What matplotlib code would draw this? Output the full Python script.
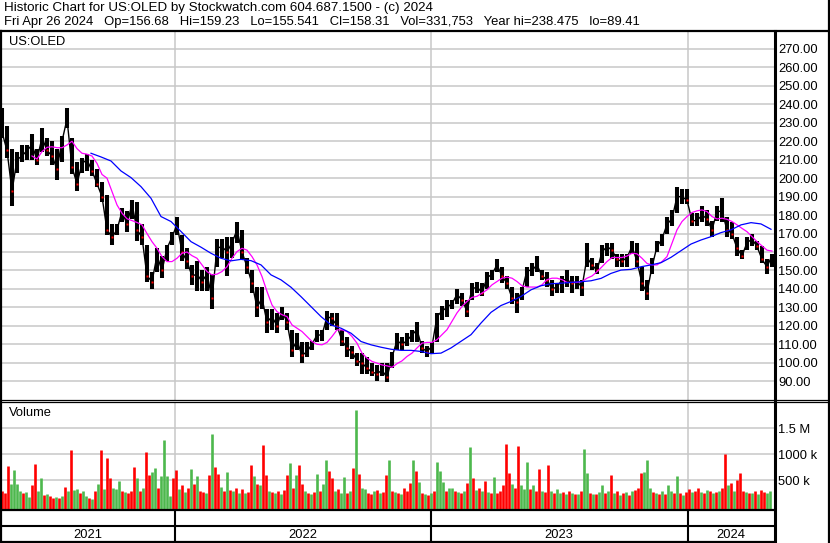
import numpy as np
import matplotlib.pyplot as plt

plt.rcParams['font.family'] = ['Liberation Sans', 'DejaVu Sans']

title_line = "Historic Chart for US:OLED by Stockwatch.com 604.687.1500 - (c) 2024"
quote_line = ("Fri Apr 26 2024   Op=156.68   Hi=159.23   Lo=155.541   Cl=158.31   "
              "Vol=331,753   Year hi=238.475   lo=89.41")
symbol = "US:OLED"

# price bars, one per 5 trading days
highs = [238, 228, 216, 214, 218, 218, 224, 216, 227, 222,
         220, 216, 223, 238, 222, 209, 211, 213, 210, 205,
         198, 191, 175, 175, 184, 182, 188, 187, 175, 164,
         149, 162, 158, 164, 171, 179, 169, 162, 153, 155,
         150, 152, 148, 167, 167, 168, 168, 176, 172, 157,
         150, 141, 141, 129, 129, 127, 130, 127, 118, 116,
         111, 111, 112, 118, 118, 128, 127, 127, 118, 114,
         109, 105, 105, 103, 100, 99, 100, 100, 106, 116,
         114, 116, 118, 122, 112, 109, 111, 127, 131, 134,
         134, 140, 138, 134, 143, 144, 143, 149, 150, 156,
         152, 147, 141, 138, 141, 152, 154, 158, 150, 149,
         145, 143, 147, 150, 147, 147, 145, 165, 157, 154,
         164, 165, 165, 159, 159, 159, 166, 165, 152, 145,
         157, 166, 170, 179, 183, 195, 194, 194, 181, 181,
         185, 183, 177, 185, 189, 179, 176, 168, 161, 168,
         170, 166, 163, 156, 159]
lows = [222, 211, 185, 203, 209, 210, 210, 207, 214, 212,
        207, 199, 209, 227, 202, 193, 203, 204, 201, 195,
        187, 169, 164, 169, 176, 171, 178, 166, 164, 144,
        140, 149, 146, 155, 164, 169, 155, 151, 142, 139,
        139, 139, 129, 152, 157, 147, 157, 165, 156, 148,
        138, 125, 129, 116, 118, 116, 123, 118, 103, 107,
        100, 103, 107, 111, 112, 118, 120, 118, 109, 103,
        102, 98, 94, 94, 93, 90, 93, 89.4, 97, 107,
        107, 109, 111, 111, 105, 103, 105, 111, 123, 125,
        129, 132, 131, 125, 134, 138, 136, 140, 145, 149,
        143, 140, 132, 127, 134, 141, 147, 149, 145, 141,
        136, 138, 138, 141, 138, 140, 136, 152, 150, 148,
        154, 158, 156, 152, 152, 152, 159, 152, 139, 134,
        148, 160, 163, 170, 174, 181, 186, 186, 174, 174,
        176, 174, 168, 177, 176, 168, 167, 158, 156, 161,
        163, 161, 154, 148, 152]
closes = [225, 215, 193, 210, 212, 215, 218, 210, 222, 215,
          212, 205, 220, 232, 206, 197, 208, 210, 204, 197,
          190, 172, 168, 172, 182, 175, 186, 172, 168, 147,
          144, 158, 150, 162, 168, 175, 160, 155, 147, 148,
          144, 148, 135, 162, 163, 160, 165, 172, 160, 152,
          143, 130, 135, 122, 125, 120, 128, 122, 107, 112,
          104, 106, 110, 115, 115, 125, 124, 120, 112, 108,
          106, 101, 100, 97, 95, 94, 96, 92, 103, 112,
          110, 112, 115, 118, 108, 106, 109, 125, 128, 130,
          132, 137, 134, 128, 140, 141, 138, 146, 148, 153,
          147, 143, 135, 133, 139, 150, 150, 153, 147, 145,
          140, 141, 145, 145, 143, 144, 141, 157, 153, 150,
          160, 163, 161, 156, 155, 157, 163, 155, 143, 138,
          152, 163, 167, 175, 178, 190, 190, 188, 177, 177,
          180, 178, 172, 182, 182, 172, 170, 162, 158, 165,
          167, 163, 156, 152, 158]

# short moving average (magenta), every 5 days from day 30
ma_short = [212, 210.4, 214.4, 216.7, 217, 216.5, 216.5, 218, 220, 216,
            213.5, 213, 212, 208, 202, 200, 192.7, 185.5, 181, 178,
            177, 176, 174.7, 170, 165.6, 162, 157.5, 154.8, 154.8, 156.6,
            159.3, 160, 158, 156.6, 153, 149.4, 147.6, 148, 149.4, 152,
            156.6, 160.2, 162, 161, 157.5, 153, 146.7, 138.6, 131.3, 127.7,
            126, 125, 120.5, 118.7, 116.9, 114.2, 111.5, 110, 109.7, 111,
            114.2, 117.8, 117.8, 116.9, 114.2, 110.6, 105.2, 102.5, 100.7, 99.8,
            98.8, 98.3, 97.5, 99.5, 101, 103.4, 105.2, 108, 110.6, 111,
            111, 112.5, 115.2, 117.9, 122.4, 127, 130.5, 133.2, 135.4, 136,
            137.7, 139.5, 142.2, 144, 145.8, 146.4, 145.8, 144, 141.7, 141,
            141, 141, 142.2, 145, 145.8, 145.8, 145, 143.5, 143.5, 143.5,
            144, 145.8, 147, 149.3, 152, 154.8, 157, 157, 157, 157.8,
            159.3, 159, 156.6, 153.8, 153, 153, 154.8, 157.5, 164.7, 172,
            176.5, 179.2, 181.4, 182.3, 182.8, 181.9, 179.2, 177.9, 178.3, 177.7,
            176.5, 174.7, 172.8, 171, 168.3, 165.6, 163.3, 161, 160.5]

# long moving average (blue), every 10 days from day 89
ma_long = [213.5, 211.5, 209.3, 203.9, 200.3, 195.4, 189.1, 179.2, 176.5, 171.1,
           165.6, 162.6, 159.3, 156.6, 155.2, 156, 155.3, 153, 147.6, 144.9,
           140.9, 135.8, 130.4, 125, 120.5, 118.7, 116, 111.5, 109.7, 108.4,
           107.3, 106.7, 106.7, 106.1, 104.9, 105.2, 108, 111.6, 115.2, 121.5,
           127.3, 131, 133.2, 135.9, 139.5, 141.7, 142.8, 143.1, 143.5, 143.9,
           144.4, 145.7, 148.4, 150.2, 150.6, 152, 153, 154.2, 157.1, 160.7,
           164.3, 166.5, 168.3, 170.5, 172, 174.7, 175.9, 175.2, 172.3]

# volume in thousands, every 3 days; r = down day, g = up day
vol_k = [290, 260, 780, 430, 700, 420, 300, 250, 270, 180,
         400, 815, 300, 550, 220, 230, 200, 150, 180, 160,
         200, 380, 300, 1080, 320, 330, 250, 290, 200, 160,
         140, 300, 420, 1080, 330, 920, 540, 350, 340, 490,
         300, 280, 260, 300, 760, 540, 300, 350, 1050, 600,
         660, 730, 350, 580, 1275, 580, 200, 540, 700, 330,
         400, 280, 350, 720, 420, 580, 300, 280, 250, 600,
         1390, 760, 615, 380, 290, 660, 320, 300, 350, 250,
         330, 250, 280, 795, 580, 420, 400, 1180, 600, 300,
         270, 260, 300, 230, 320, 600, 830, 350, 600, 795,
         420, 300, 260, 240, 280, 620, 300, 420, 890, 680,
         540, 300, 330, 260, 570, 260, 300, 740, 1850, 630,
         350, 330, 260, 240, 300, 320, 260, 280, 600, 890,
         300, 280, 260, 230, 350, 300, 440, 890, 680, 460,
         250, 230, 220, 250, 300, 860, 680, 460, 300, 350,
         350, 300, 280, 260, 300, 440, 1150, 540, 320, 350,
         300, 490, 280, 260, 570, 250, 300, 410, 1200, 635,
         420, 350, 1160, 400, 340, 850, 330, 410, 300, 720,
         300, 280, 795, 300, 260, 330, 250, 280, 240, 300,
         250, 230, 240, 300, 1100, 635, 260, 240, 230, 280,
         410, 250, 300, 600, 260, 300, 220, 250, 280, 220,
         300, 320, 350, 635, 660, 890, 350, 280, 250, 230,
         300, 240, 410, 300, 260, 590, 250, 220, 280, 330,
         280, 300, 350, 280, 250, 320, 300, 260, 280, 300,
         360, 1000, 410, 440, 300, 510, 635, 300, 280, 250,
         260, 300, 240, 320, 280, 260, 290]
vol_dir = ("rrrggggrgg" "rrggrgrrgr" "grgrggrggr" "grgrgrrggg" "rgrrrgrgrr"
           "ggrggggrrg" "rgrgrgrrgr" "grrgrgrgrg" "rgrrgrgrrg" "rgrgrrgrgr"
           "rgrgrgrggr" "rgrggrgrgr" "ggrrgrgrrg" "rgrgrrrgrg" "rgrgrgggrg"
           "grgrgrgrgr" "grgrgrrrrr" "grrgggrgrr" "grrgrggrgr" "grgrggrgrg"
           "grgrgrgrgr" "grrrgggrgr" "grggrgrgrr" "grrgrgrgrg" "rrgrgrrrgr"
           "grgrrgg")

years = ["2021", "2022", "2023", "2024"]
year_starts = [172.5, 428.5, 685.5]   # trading-day index where each new year begins
price_ticks = list(range(90, 271, 10))
vol_ticks = [500, 1000, 1500]
vol_labels = ["500 k", "1000 k", "1.5 M"]

bar_days = np.arange(len(highs)) * 5
short_days = 30 + np.arange(len(ma_short)) * 5
long_days = 89 + np.arange(len(ma_long)) * 10
vol_days = np.arange(len(vol_k)) * 3

W, H = 830, 543
fig = plt.figure(figsize=(W / 100, H / 100), dpi=100)


def px_axes(x0, y0, x1, y1):
    return fig.add_axes([x0 / W, 1 - y1 / H, (x1 - x0) / W, (y1 - y0) / H])


grid_c = '#c8c8c8'
fs = 9.3
xlim = (-1, 772)

# price panel
ax = px_axes(1, 32, 774, 400)
ax.set_xlim(*xlim)
ax.set_ylim(79.8, 279.2)
for y in price_ticks:
    ax.axhline(y, color=grid_c, lw=1.1, zorder=0)
for d in year_starts:
    ax.axvline(d, color=grid_c, lw=1.1, zorder=0)
ax.plot(bar_days, closes, color='black', lw=1.0, zorder=2)
ax.vlines(bar_days, lows, highs, color='black', lw=2.9, zorder=2)
c = np.array(closes, dtype=float)
down = np.r_[False, c[1:] < c[:-1]]
ax.plot(bar_days[down], c[down], 's', ms=1.6, color='red', mec='none', zorder=3)
ax.plot(short_days, ma_short, color='#ff00ff', lw=0.9, zorder=4)
ax.plot(long_days, ma_long, color='#0000ff', lw=0.9, zorder=4)
ax.yaxis.tick_right()
ax.set_yticks(price_ticks)
ax.set_yticklabels([f"{v:.2f}" for v in price_ticks])
ax.tick_params(axis='y', length=0, pad=3.2, labelsize=fs)
ax.set_xticks([])
for s in ax.spines.values():
    s.set_visible(False)
ax.text(8 / 773, 1 - 10 / 368, symbol, transform=ax.transAxes, fontsize=fs,
        va='center', ha='left')

# volume panel
axv = px_axes(1, 402, 774, 509)
axv.set_xlim(*xlim)
vlo, vhi = -52, 2006
axv.set_ylim(vlo, vhi)
for y in vol_ticks:
    axv.axhline(y, color=grid_c, lw=1.1, zorder=0)
for d in year_starts:
    axv.axvline(d, color=grid_c, lw=1.1, zorder=0)
vcol = ['#ff0000' if k == 'r' else '#4db84d' for k in vol_dir]
axv.vlines(vol_days, vlo, vol_k, colors=vcol, lw=1.9, zorder=2)
axv.yaxis.tick_right()
axv.set_yticks(vol_ticks)
axv.set_yticklabels(vol_labels)
axv.tick_params(axis='y', length=0, pad=3.2, labelsize=fs)
axv.set_xticks([])
for s in axv.spines.values():
    s.set_visible(False)
axv.text(8 / 773, 1 - 11 / 107, "Volume", transform=axv.transAxes, fontsize=fs,
         va='center', ha='left')

# date strip
axd = px_axes(1, 510, 774, 542)
axd.set_xlim(*xlim)
axd.set_ylim(0, 1)
axd.axis('off')
axd.axhline(0.5, color='black', lw=1.5)
for d in year_starts:
    axd.axvline(d, color='black', lw=1.5)
edges = [xlim[0]] + year_starts + [xlim[1]]
for i, yr in enumerate(years):
    axd.text((edges[i] + edges[i + 1]) / 2, 0.22, yr, fontsize=fs,
             ha='center', va='center')

# frame lines and header
ov = fig.add_axes([0, 0, 1, 1])
ov.set_xlim(0, W)
ov.set_ylim(H, 0)
ov.axis('off')
ov.patch.set_alpha(0)
ov.plot([0, W], [31, 31], color='black', lw=1.6)
ov.plot([0, W], [400, 400], color='black', lw=0.9)
ov.plot([0, W], [402.2, 402.2], color='black', lw=0.9)
ov.plot([0, 774.5], [510, 510], color='black', lw=1.6)
ov.plot([0, 774.5], [542, 542], color='black', lw=1.6)
ov.plot([1, 1], [31, 543], color='black', lw=1.6)
ov.plot([774.5, 774.5], [31, 543], color='black', lw=2.2)
ov.plot([829, 829], [0, 543], color='black', lw=1.6)

fig.text(4 / W, 1 - 8.5 / H, title_line, fontsize=9.6, ha='left', va='center')
fig.text(4 / W, 1 - 22 / H, quote_line, fontsize=9.4, ha='left', va='center')

fig.savefig('out.png', dpi=100)
